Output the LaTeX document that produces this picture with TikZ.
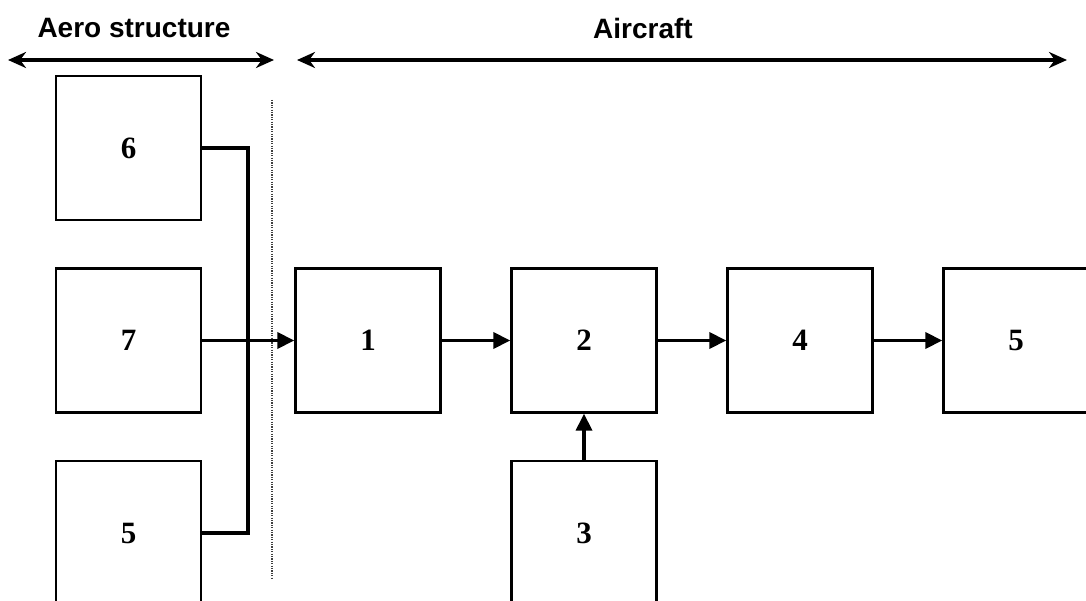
\documentclass[tikz,border=0pt]{standalone}
\usepackage{fontspec}
\setmainfont{Liberation Serif}
\newfontfamily\headfont{Liberation Sans}
\usetikzlibrary{arrows.meta}
\tikzset{
  blk/.style={draw, line width=2.3pt, minimum width=145pt, minimum height=144pt,
              inner sep=0pt, font=\fontsize{31}{33}\selectfont\bfseries},
  link/.style={line width=3.4pt},
  flow/.style={line width=3.4pt, -{Triangle[length=17pt,width=16pt]}},
  span/.style={line width=3.2pt, {Stealth[length=18pt,width=16pt]}-{Stealth[length=18pt,width=16pt]}},
  head/.style={font=\headfont\fontsize{28}{30}\selectfont\bfseries},
  divider/.style={line width=1.3pt, dash pattern=on 1.2pt off 1.2pt, black!75}
}
\begin{document}
\begin{tikzpicture}[x=1pt,y=-1pt]
  \useasboundingbox (0,0) rectangle (1086,601);
  \clip (0,0) rectangle (1086,601);

  % headings with their extent arrows
  \node[head] (tAero) at (134,28) {Aero structure};
  \node[head] (tAir) at (643,28) {Aircraft};
  \coordinate (aeroL) at (8,60);
  \coordinate (aeroR) at (274,60);
  \coordinate (airL) at (297,60);
  \coordinate (airR) at (1067,60);
  \draw[span] (aeroL) -- (aeroR);
  \draw[span] (airL) -- (airR);

  % boundary between the two parts
  \coordinate (dTop) at (272,100);
  \coordinate (dBot) at (272,578);
  \draw[divider] (dTop) -- (dBot);

  % aero structure blocks
  \node[blk] (b6) at (128.5,148) {6};
  \node[blk] (b7) at (128.5,340.5) {7};
  \node[blk] (b5a) at (128.5,533) {5};

  % aircraft blocks
  \node[blk] (b1) at (368,340.5) {1};
  \node[blk] (b2) at (584,340.5) {2};
  \node[blk] (b4) at (800,340.5) {4};
  \node[blk] (b5b) at (1016,340.5) {5};
  \node[blk] (b3) at (584,533) {3};

  % collecting bus from 6 and 5 into the 7 line
  \coordinate (busX) at (248,0);
  \draw[link] (b6.east) -- (b6.east -| busX) -- (b5a.east -| busX) -- (b5a.east);

  % signal flow
  \draw[flow] (b7.east) -- (b1.west);
  \draw[flow] (b1.east) -- (b2.west);
  \draw[flow] (b2.east) -- (b4.west);
  \draw[flow] (b4.east) -- (b5b.west);
  \draw[flow] (b3.north) -- (b2.south);
\end{tikzpicture}
\end{document}
